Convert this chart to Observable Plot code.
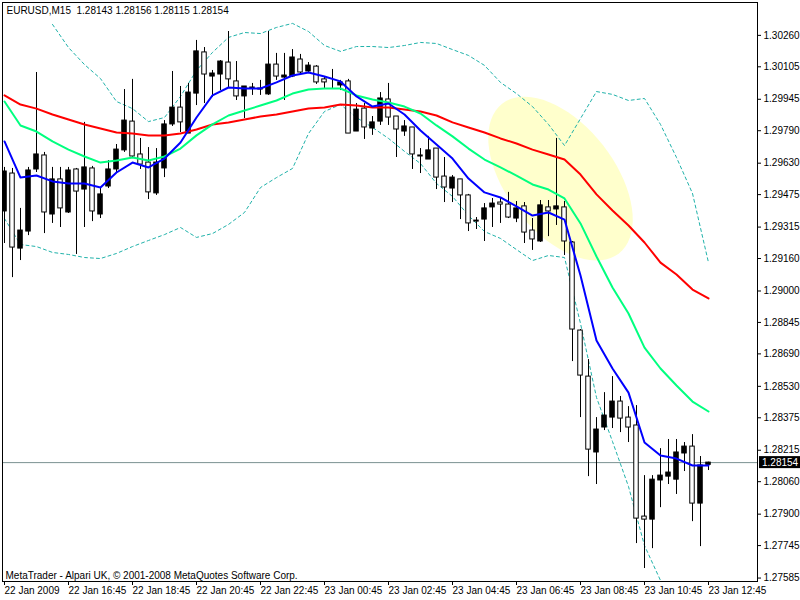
<!DOCTYPE html>
<html><head><meta charset="utf-8">
<script src="https://cdn.jsdelivr.net/npm/d3@7"></script>
<script src="https://cdn.jsdelivr.net/npm/@observablehq/plot@0.6"></script>
<style>html,body{margin:0;padding:0;background:#fff;} svg{display:block}</style>
</head><body><div id="chart"></div>
<script>
const symbolTitle = "EURUSD,M15\u00a0\u00a01.28143 1.28156 1.28115 1.28154";
const footer = "MetaTrader - Alpari UK, \u00a9 2001-2008 MetaQuotes Software Corp.";
const timeTickBars = [0, 8, 16, 24, 32, 40, 48, 56, 64, 72, 80, 88];
const timeLabels = ["22 Jan 2009", "22 Jan 16:45", "22 Jan 18:45", "22 Jan 20:45", "22 Jan 22:45", "23 Jan 00:45",
  "23 Jan 02:45", "23 Jan 04:45", "23 Jan 06:45", "23 Jan 08:45", "23 Jan 10:45", "23 Jan 12:45"];
const priceTicks = [1.30260, 1.30105, 1.29945, 1.29790, 1.29630, 1.29475, 1.29315, 1.29160, 1.29000,
  1.28845, 1.28690, 1.28530, 1.28375, 1.28215, 1.28060, 1.27900, 1.27745, 1.27585];

const opens = [1.29392,1.29579,1.29209,1.29293,1.29599,1.29668,1.29377,1.2955,1.29387,1.29599,
  1.295,1.29604,1.29377,1.29515,1.29599,1.29693,1.29835,1.29673,1.29633,1.29481,
  1.29604,1.29821,1.29904,1.29776,1.29973,1.30176,1.30057,1.30067,1.30126,1.30033,
  1.29959,1.30003,1.29993,1.29969,1.30116,1.30052,1.30057,1.30141,1.30082,1.30106,
  1.30043,1.30023,1.30013,1.30033,1.29786,1.29899,1.29801,1.29835,1.29944,1.2986,
  1.29786,1.29806,1.29668,1.29648,1.29702,1.29564,1.29505,1.2955,1.29471,1.29347,
  1.29352,1.29412,1.29436,1.29426,1.29357,1.29417,1.29298,1.29244,1.29412,1.29402,
  1.29412,1.29239,1.28805,1.28578,1.28204,1.28327,1.28376,1.28455,1.28376,1.28337,
  1.27888,1.27873,1.28066,1.28085,1.2807,1.28199,1.28233,1.27952,1.28143];
const highs = [1.29609,1.29604,1.29407,1.29609,1.30077,1.29683,1.29609,1.29609,1.29609,1.29604,
  1.29831,1.29614,1.2951,1.29643,1.29722,1.29993,1.30043,1.29752,1.29707,1.29702,
  1.2984,1.30082,1.30008,1.30023,1.30235,1.302,1.30087,1.30136,1.30279,1.30131,
  1.30008,1.30023,1.30038,1.30279,1.30171,1.30171,1.3019,1.30166,1.30126,1.30111,
  1.30052,1.30092,1.30038,1.30043,1.29924,1.29924,1.2986,1.29978,1.30023,1.2986,
  1.2984,1.29806,1.29702,1.29762,1.29702,1.29658,1.29569,1.2955,1.29476,1.29362,
  1.29431,1.29456,1.29456,1.29486,1.29441,1.29436,1.29357,1.29446,1.29446,1.29752,
  1.29441,1.29244,1.2881,1.28662,1.28376,1.28499,1.28578,1.2848,1.2843,1.28435,
  1.2809,1.2809,1.28223,1.28268,1.28268,1.28253,1.28292,1.28184,1.28156];
const lows = [1.29234,1.29066,1.2915,1.29273,1.29584,1.29283,1.29333,1.29313,1.29382,1.2918,
  1.29313,1.29342,1.29357,1.29505,1.29579,1.29683,1.29658,1.29599,1.29451,1.29471,
  1.29559,1.29811,1.29781,1.29776,1.29914,1.29924,1.29954,1.29988,1.29998,1.29939,
  1.2985,1.29964,1.29964,1.29964,1.30038,1.29939,1.30052,1.30062,1.30077,1.30018,
  1.29998,1.29998,1.29988,1.29776,1.29786,1.29747,1.29767,1.29816,1.29816,1.29658,
  1.29762,1.29599,1.29579,1.29648,1.295,1.29436,1.29436,1.29352,1.29293,1.29303,
  1.29244,1.29313,1.29333,1.29357,1.29337,1.29234,1.292,1.29239,1.29268,1.29323,
  1.29175,1.28652,1.28376,1.28085,1.28046,1.28312,1.28322,1.28302,1.28253,1.27755,
  1.27632,1.2773,1.27932,1.28046,1.27997,1.2811,1.27863,1.2774,1.28115];
const closes = [1.29589,1.29214,1.29298,1.29594,1.29673,1.29387,1.2955,1.29407,1.29594,1.2949,
  1.29609,1.29392,1.29476,1.29599,1.29697,1.2984,1.29663,1.29623,1.29486,1.29633,
  1.29821,1.29904,1.29831,1.29978,1.30181,1.30067,1.30072,1.30131,1.30043,1.29959,
  1.30008,1.29998,1.29998,1.30116,1.30057,1.30062,1.30151,1.30077,1.30111,1.30028,
  1.30028,1.30023,1.30028,1.29776,1.29894,1.29806,1.29831,1.29949,1.29855,1.29796,
  1.29811,1.29673,1.29663,1.29693,1.29559,1.2951,1.29559,1.29471,1.29333,1.29342,
  1.29407,1.29431,1.29426,1.29362,1.29407,1.29288,1.29254,1.29422,1.29392,1.29417,
  1.29244,1.2881,1.28583,1.28218,1.28317,1.28386,1.28455,1.28371,1.28327,1.27878,
  1.27873,1.2807,1.2809,1.28105,1.28204,1.28233,1.27952,1.2814,1.28154];

// moving averages, read every second bar
const maBars = [0,2,4,6,8,10,12,14,16,18,20,22,24,26,28,30,32,34,36,38,40,42,44,46,48,50,52,54,56,58,60,62,64,66,68,70,72,74,76,78,80,82,84,86,88];
const maFast = [1.29737,1.29559,1.29569,1.2954,1.2953,1.2953,1.2951,1.29584,1.29633,1.29609,
  1.29653,1.29732,1.29855,1.29964,1.30003,1.29998,1.29998,1.30028,1.30062,1.30077,
  1.30057,1.30033,1.29959,1.29909,1.29924,1.2987,1.29791,1.29722,1.29653,1.29554,
  1.29486,1.29461,1.29417,1.29372,1.29387,1.29352,1.29076,1.28756,1.28618,1.28499,
  1.28253,1.28189,1.28174,1.2814,1.2814];
const maMid = [1.29934,1.29816,1.29786,1.29737,1.29697,1.29663,1.29633,1.29643,1.29658,1.29643,
  1.29663,1.29702,1.29767,1.29821,1.29865,1.2989,1.29914,1.29939,1.29973,1.29993,
  1.29998,1.29998,1.29964,1.29944,1.29929,1.29909,1.29875,1.29816,1.29762,1.29702,
  1.29648,1.29609,1.29569,1.29525,1.295,1.29456,1.29333,1.2917,1.29017,1.28889,
  1.28721,1.28618,1.28534,1.28455,1.28406];
const maSlow = [1.29964,1.29919,1.29899,1.2987,1.29845,1.29821,1.29801,1.29781,1.29776,1.29767,
  1.29767,1.29776,1.29796,1.29821,1.29831,1.29845,1.2986,1.2987,1.29885,1.29899,
  1.29904,1.29919,1.29914,1.29904,1.29904,1.29894,1.29885,1.29865,1.29831,1.29806,
  1.29781,1.29752,1.29727,1.29697,1.29673,1.29648,1.29574,1.29476,1.29397,1.29323,
  1.29239,1.2914,1.29081,1.29007,1.28963];
const bandUpperBars = [6,8,10,12,14,16,18,20,22,24,26,28,30,32,34,36,38,40,42,44,46,48,50,52,54,56,58,60,62,64,66,68,70,72,74,76,78,80,82,84,86,88];
const bandUpper = [1.30314,1.302,1.30116,1.30047,1.29934,1.29899,1.29835,1.29855,1.29959,1.30087,
  1.30176,1.3025,1.30274,1.30269,1.30299,1.30319,1.30279,1.3021,1.30181,1.30205,
  1.30205,1.302,1.3021,1.30225,1.3022,1.3019,1.30161,1.30112,1.30028,1.29973,
  1.29909,1.29821,1.29717,1.2985,1.29983,1.29969,1.29939,1.29949,1.29821,1.29658,
  1.29481,1.2914];
const bandLowerBars = [0,2,4,6,8,10,12,14,16,18,20,22,24,26,28,30,32,34,36,38,40,42,44,46,48,50,52,54,56,58,60,62,64,66,68,70,72,74,76,78,80,82];
const bandLower = [1.29357,1.29229,1.29219,1.2919,1.2918,1.29165,1.2916,1.29185,1.29219,1.29249,
  1.29278,1.29313,1.29264,1.29283,1.29328,1.29387,1.2951,1.29559,1.29604,1.29776,
  1.29885,1.29919,1.29855,1.29806,1.29752,1.29688,1.29628,1.2953,1.29466,1.29372,
  1.29293,1.29259,1.29204,1.2915,1.29175,1.29165,1.2884,1.28475,1.28258,1.28036,
  1.27745,1.27573];

// highlight ellipse drawn on the chart: centre and two half-axes (bars, price)
const hlCenter = [69.5, 1.29554];
const hlMajor = [7.3, -0.00369];
const hlMinor = [-5.32, -0.00164];

const candles = opens.map((o, i) => ({i, open: o, high: highs[i], low: lows[i], close: closes[i]}));
const series = (bars, vals) => bars.map((b, k) => ({i: b, v: vals[k]}));
const ellipse = d3.range(0, 73).map(k => {
  const t = k / 72 * 2 * Math.PI;
  return {i: hlCenter[0] + hlMajor[0] * Math.cos(t) + hlMinor[0] * Math.sin(t),
          v: hlCenter[1] + hlMajor[1] * Math.cos(t) + hlMinor[1] * Math.sin(t)};
});
const lastClose = closes[closes.length - 1];

const W = 800, H = 600, mL = 2, mR = 43, mT = 2, mB = 19;
const FONT = "'Liberation Sans', Arial, sans-serif";
const chart = Plot.plot({
  width: W, height: H,
  marginLeft: mL, marginRight: mR, marginTop: mT, marginBottom: mB,
  style: {fontFamily: FONT, fontSize: "10px", background: "#fff", color: "#000", overflow: "visible"},
  x: {domain: [-0.25, 94.125], axis: null},
  y: {domain: [1.27568, 1.30422], axis: null},
  marks: [
    Plot.line(ellipse, {x: "i", y: "v", fill: "#ffffcc", stroke: "none", clip: true}),
    Plot.ruleY([lastClose], {stroke: "#7b9191", strokeWidth: 1}),
    Plot.line(series(bandUpperBars, bandUpper), {x: "i", y: "v", stroke: "#20b2aa", strokeWidth: 1, strokeDasharray: "3,3", clip: true}),
    Plot.line(series(bandLowerBars, bandLower), {x: "i", y: "v", stroke: "#20b2aa", strokeWidth: 1, strokeDasharray: "3,3", clip: true}),
    Plot.ruleX(candles, {x: "i", y1: "low", y2: "high", stroke: "black", strokeWidth: 1, clip: true}),
    Plot.rect(candles, {x1: d => d.i - 0.28, x2: d => d.i + 0.28, y1: "open", y2: "close",
      fill: d => d.close > d.open ? "black" : "white", stroke: "black", strokeWidth: 1, clip: true}),
    Plot.line(series(maBars, maSlow), {x: "i", y: "v", stroke: "#ff0000", strokeWidth: 2, clip: true}),
    Plot.line(series(maBars, maMid), {x: "i", y: "v", stroke: "#00ff7f", strokeWidth: 2, clip: true}),
    Plot.line(series(maBars, maFast), {x: "i", y: "v", stroke: "#0000ff", strokeWidth: 2, clip: true}),
    Plot.frame({stroke: "black"}),
    Plot.axisY({anchor: "right", ticks: priceTicks, tickFormat: d3.format(".5f"), tickSize: 3, tickPadding: 3, label: null}),
    Plot.axisX({ticks: timeTickBars, tickFormat: d => timeLabels[timeTickBars.indexOf(d)], tickSize: 4, tickPadding: 1, textAnchor: "start", label: null}),
    Plot.text([symbolTitle], {frameAnchor: "top-left", dx: 4, dy: 4, lineAnchor: "top", textAnchor: "start"}),
    Plot.text([footer], {frameAnchor: "bottom-left", dx: 3, dy: -3, lineAnchor: "bottom", textAnchor: "start"})
  ]
});

// current price label on the right axis
const yPos = chart.scale("y").apply(lastClose);
const svg = d3.select(chart);
svg.append("rect").attr("x", W - mR + 2).attr("y", yPos - 6).attr("width", mR - 2).attr("height", 12).attr("fill", "black");
svg.append("text").attr("x", W - mR + 5).attr("y", yPos).attr("dy", "0.35em")
  .attr("text-anchor", "start")
  .attr("fill", "white").attr("font-size", "10px").attr("font-family", FONT)
  .text(d3.format(".5f")(lastClose));
document.getElementById("chart").appendChild(chart);
</script>
</body></html>
